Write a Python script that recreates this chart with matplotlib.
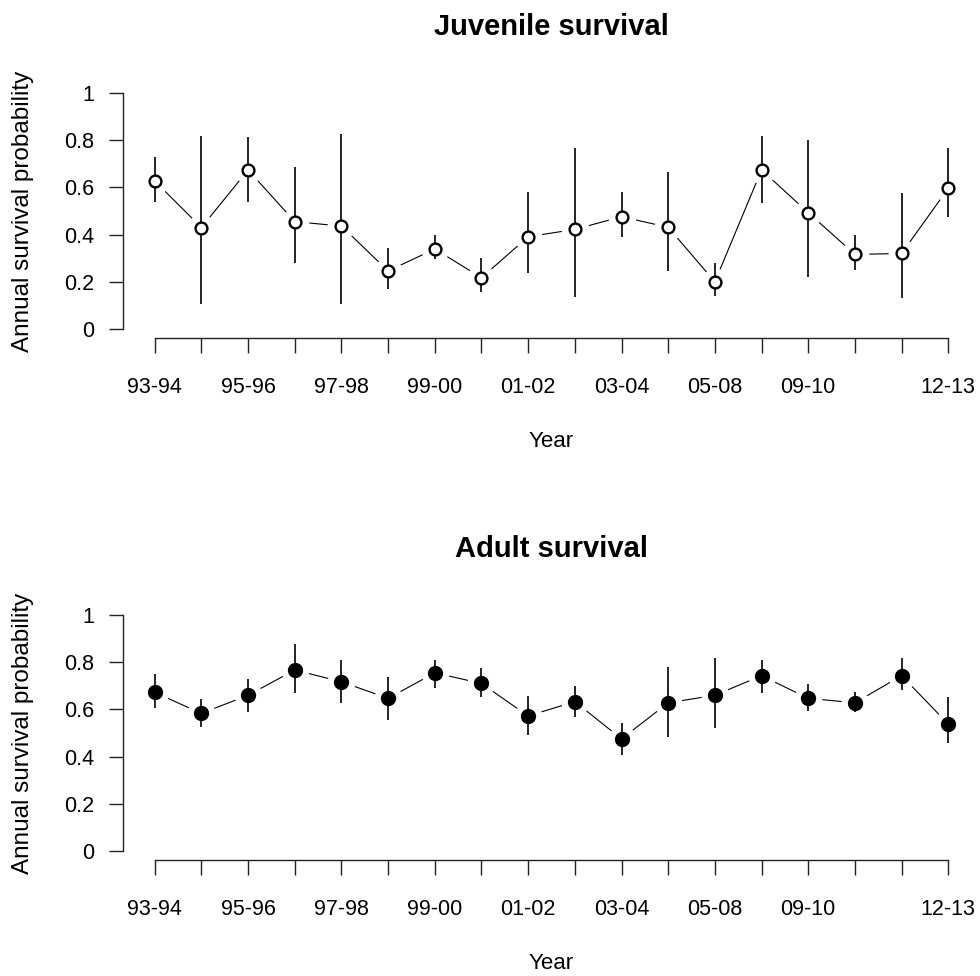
import matplotlib
matplotlib.use("Agg")
import matplotlib.pyplot as plt
import numpy as np

plt.rcParams['font.family'] = ['Liberation Sans', 'DejaVu Sans']

# ---- data ----
year_labels = ["93-94", "", "95-96", "", "97-98", "", "99-00", "", "01-02", "",
               "03-04", "", "05-08", "", "09-10", "", "", "12-13"]

juv_est = [0.627, 0.430, 0.674, 0.455, 0.436, 0.246, 0.339, 0.217, 0.391, 0.422,
           0.476, 0.431, 0.200, 0.674, 0.493, 0.316, 0.320, 0.596]
juv_lo = [0.540, 0.105, 0.540, 0.278, 0.105, 0.168, 0.297, 0.155, 0.239, 0.134,
          0.391, 0.246, 0.141, 0.533, 0.219, 0.250, 0.130, 0.476]
juv_hi = [0.730, 0.820, 0.812, 0.685, 0.826, 0.345, 0.400, 0.300, 0.582, 0.768,
          0.582, 0.665, 0.281, 0.820, 0.800, 0.398, 0.575, 0.768]

ad_est = [0.672, 0.583, 0.660, 0.767, 0.717, 0.647, 0.755, 0.710, 0.572, 0.633,
          0.475, 0.628, 0.660, 0.743, 0.647, 0.628, 0.743, 0.538]
ad_lo = [0.607, 0.524, 0.588, 0.671, 0.626, 0.555, 0.689, 0.651, 0.492, 0.566,
         0.407, 0.483, 0.520, 0.671, 0.593, 0.587, 0.682, 0.459]
ad_hi = [0.752, 0.644, 0.728, 0.876, 0.810, 0.739, 0.809, 0.777, 0.657, 0.701,
         0.541, 0.778, 0.816, 0.809, 0.706, 0.675, 0.816, 0.651]

titles = ["Juvenile survival", "Adult survival"]
ylabel = "Annual survival probability"
xlabel = "Year"
yticks = [0, 0.2, 0.4, 0.6, 0.8, 1]
ytick_labels = ["0", "0.2", "0.4", "0.6", "0.8", "1"]

W, H = 980, 976
fig = plt.figure(figsize=(W / 100, H / 100), dpi=100)

def ax_rect(top_px, bot_px, left_px=123, right_px=980):
    return [left_px / W, 1 - bot_px / H, (right_px - left_px) / W, (bot_px - top_px) / H]

ax1 = fig.add_axes(ax_rect(83.6, 338.4))
ax2 = fig.add_axes(ax_rect(605.6, 860.4))

x = np.arange(1, len(year_labels) + 1)

def panel(ax, est, lo, hi, title, filled):
    est = np.asarray(est); lo = np.asarray(lo); hi = np.asarray(hi)
    ax.plot(x, est, color='black', lw=0.8, zorder=1)
    # gaps around points (R type="b")
    ax.plot(x, est, linestyle='none', marker='o', ms=20, mfc='white', mec='none', zorder=2)
    ax.vlines(x, lo, hi, color='black', lw=1.2, zorder=3)
    if filled:
        ax.plot(x, est, linestyle='none', marker='o', ms=10, mfc='black', mec='black', zorder=4)
    else:
        ax.plot(x, est, linestyle='none', marker='o', ms=8.5, mfc='white', mec='black', mew=1.7, zorder=4)
    n = len(x)
    rng = n - 1
    ax.set_xlim(1 - 0.04 * rng, n + 0.04 * rng)
    ax.set_ylim(-0.04, 1.04)
    for s in ['top', 'right']:
        ax.spines[s].set_visible(False)
    ax.spines['left'].set_bounds(0, 1)
    ax.spines['bottom'].set_bounds(1, n)
    for s in ['left', 'bottom']:
        ax.spines[s].set_linewidth(1.0)
        ax.spines[s].set_color('#222222')
    ax.set_xticks(x)
    ax.set_xticklabels(year_labels)
    ax.set_yticks(yticks)
    ax.set_yticklabels(ytick_labels)
    ax.tick_params(axis='x', length=11, width=1.0, pad=17, labelsize=15.5, color='#222222')
    ax.tick_params(axis='y', length=10, width=1.0, pad=11, labelsize=15.5, color='#222222')
    ax.set_xlabel(xlabel, fontsize=16)
    ax.xaxis.set_label_coords(0.5, -0.363)
    ax.set_ylabel(ylabel, fontsize=17.5)
    ax.yaxis.set_label_coords(-0.104, 0.5)
    ax.text(0.5, 1.19, title, transform=ax.transAxes, ha='center', va='baseline',
            fontsize=21, fontweight='bold')

panel(ax1, juv_est, juv_lo, juv_hi, titles[0], filled=False)
panel(ax2, ad_est, ad_lo, ad_hi, titles[1], filled=True)

fig.savefig("out.png", dpi=100, facecolor='white')
